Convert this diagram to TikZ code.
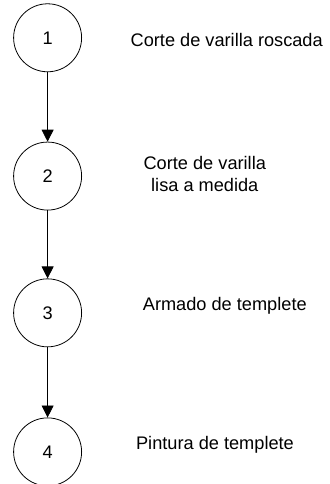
\documentclass[tikz,border=0pt]{standalone}
\usepackage{fontspec}
\setmainfont{Liberation Sans}
\usetikzlibrary{arrows.meta, positioning}

\begin{document}
\begin{tikzpicture}[
  paso/.style={draw, circle, minimum size=1.8cm, inner sep=0pt, line width=0.6pt, font=\fontsize{13.7}{15}\selectfont},
  etiqueta/.style={align=center, font=\fontsize{13.7}{16.5}\selectfont},
  flecha/.style={-{Triangle[length=9pt, width=9pt]}, line width=0.6pt}
]
  \useasboundingbox (0,0) rectangle (8.73,-12.81);

  % Steps of the process
  \node[paso] (p1) at (1.26, -1.0) {1};
  \node[paso] (p2) at (1.26, -4.66) {2};
  \node[paso] (p3) at (1.26, -8.28) {3};
  \node[paso] (p4) at (1.26, -11.96) {4};

  % Descriptions
  \node[etiqueta] (t1) at (6.0, -1.06) {Corte de varilla roscada};
  \node[etiqueta] (t2) at (5.42, -4.6) {Corte de varilla\\lisa a medida};
  \node[etiqueta] (t3) at (5.95, -8.1) {Armado de templete};
  \node[etiqueta] (t4) at (5.69, -11.77) {Pintura de templete};

  % Sequence
  \draw[flecha] (p1) -- (p2);
  \draw[flecha] (p2) -- (p3);
  \draw[flecha] (p3) -- (p4);
\end{tikzpicture}
\end{document}
